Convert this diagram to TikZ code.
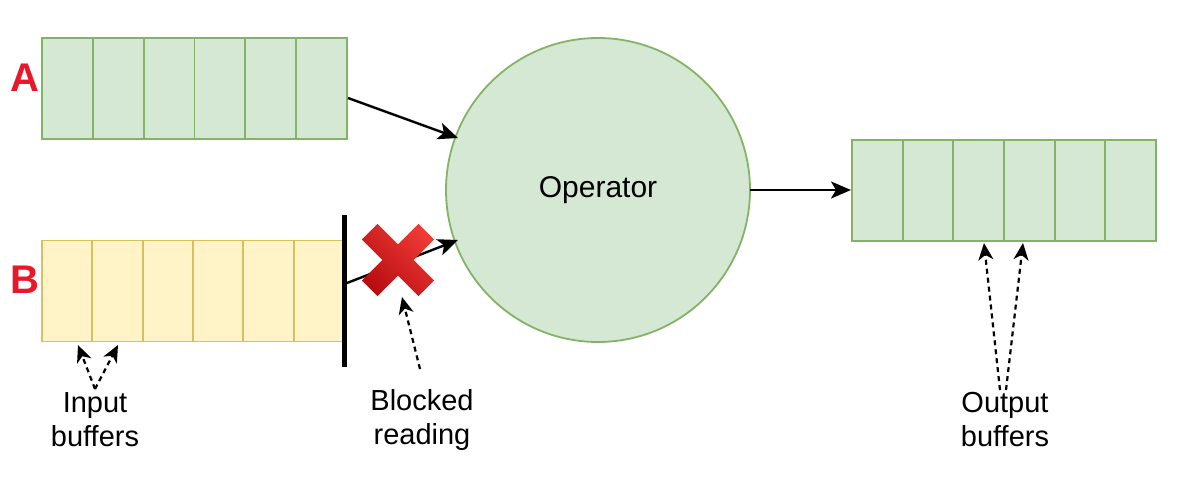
\documentclass[tikz,border=0pt]{standalone}
\usepackage{fontspec}
\setmainfont{Liberation Sans}
\usetikzlibrary{arrows.meta,calc}
\definecolor{gfill}{HTML}{D5E8D4}
\definecolor{gline}{HTML}{82B366}
\definecolor{yfill}{HTML}{FFF4C8}
\definecolor{yline}{HTML}{D6C060}
\definecolor{lred}{HTML}{E8182A}
\definecolor{xtop}{HTML}{EE3A34}
\definecolor{xbot}{HTML}{B80E12}
\begin{document}
\begin{tikzpicture}[x=1pt,y=-1pt,
  gcell/.style={rectangle,draw=gline,fill=gfill,line width=1.8pt,inner sep=0pt,minimum height=101pt},
  ycell/.style={rectangle,draw=yline,fill=yfill,line width=1.8pt,inner sep=0pt,minimum height=101pt},
  op/.style={circle,draw=gline,fill=gfill,line width=1.8pt,minimum size=304pt,inner sep=0pt,font=\fontsize{30}{36}\selectfont},
  lbl/.style={align=center,font=\fontsize{29}{34}\selectfont,inner sep=0pt},
  big/.style={font=\fontsize{40}{42}\selectfont\bfseries,text=lred,inner sep=0pt},
  conn/.style={line width=2.4pt,-{Stealth[length=20pt,width=17pt,inset=5pt]}},
  dconn/.style={line width=2.2pt,dash pattern=on 5pt off 4pt,-{Stealth[length=17pt,width=15pt,inset=5pt]}}
]
\useasboundingbox (0,0) rectangle (1200,485);
% buffer A
\foreach \i in {0,...,5}
  \node[gcell,minimum width=50.83pt] (a\i) at ({42+50.83*(\i+0.5)},88.5) {};
% buffer B
\foreach \i in {0,...,5}
  \node[ycell,minimum width=50.33pt] (b\i) at ({42+50.33*(\i+0.5)},291) {};
% output buffer
\foreach \i in {0,...,5}
  \node[gcell,minimum width=50.67pt] (o\i) at ({852+50.67*(\i+0.5)},190.5) {};
% operator
\node[op] (op) at (598,190) {Operator};
% blocking bar
\node[rectangle,fill=black,minimum width=5pt,minimum height=152pt,inner sep=0pt] (bar) at (344,291) {};
% labels
\node[big] (la) at (25,78) {A};
\node[big] (lb) at (25,280) {B};
\node[lbl] (tin) at (95,420) {Input\\buffers};
\node[lbl] (tbl) at (422,420) {Blocked\\reading};
\node[lbl] (tout) at (1005,420) {Output\\buffers};
% coordinates for connectors
\coordinate (aout) at (348,98);
\coordinate (ain) at (458,138);
\coordinate (bout) at (347,283);
\coordinate (bin) at (458,240);
\coordinate (opout) at (750,190);
\coordinate (oin) at (851,190);
\draw[conn] (aout) -- (ain);
\draw[conn] (bout) -- (bin);
\draw[conn] (opout) -- (oin);
% red X
\begin{scope}[shift={(398,260)},rotate=45]
  \shade[top color=xtop,bottom color=xbot,shading angle=-45]
    (-40,-11) -- (-11,-11) -- (-11,-40) -- (11,-40) -- (11,-11) -- (40,-11) --
    (40,11) -- (11,11) -- (11,40) -- (-11,40) -- (-11,11) -- (-40,11) -- cycle;
\end{scope}
\coordinate (xc) at (402,297);
% dashed pointers
\coordinate (inp) at (95,389);
\coordinate (inl) at (78,345);
\coordinate (inr) at (118,345);
\draw[dconn] (inp) -- (inl);
\draw[dconn] (inp) -- (inr);
\draw[dconn] (420,369) -- (xc);
\coordinate (outp1) at (1000,390);
\coordinate (outp2) at (1006,390);
\coordinate (outl) at (984,243);
\coordinate (outr) at (1023,243);
\draw[dconn] (outp1) -- (outl);
\draw[dconn] (outp2) -- (outr);
\end{tikzpicture}
\end{document}
